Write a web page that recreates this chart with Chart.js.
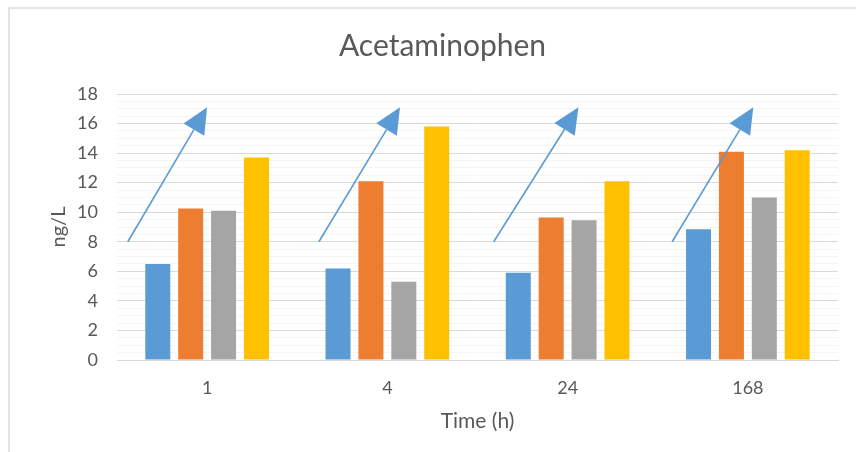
<!DOCTYPE html>
<html>
<head>
<meta charset="utf-8">
<script src="https://cdn.jsdelivr.net/npm/chart.js@4.4.1/dist/chart.umd.min.js"></script>
<style>
  html, body { margin: 0; padding: 0; background: #fff; }
  #wrap { position: relative; width: 856px; height: 452px; }
  #frame { position: absolute; left: 8px; top: 7px; right: 0; bottom: 0;
           border-left: 2px solid #e3e3e3; border-top: 2px solid #e3e3e3; }
  canvas { position: absolute; left: 0; top: 0; }
</style>
</head>
<body>
<div id="wrap">
  <div id="frame"></div>
  <canvas id="chart" width="856" height="452"></canvas>
</div>
<script>
const times = ["1", "4", "24", "168"];

const blueValues   = [6.5, 6.2, 5.9, 8.85];
const orangeValues = [10.25, 12.1, 9.65, 14.1];
const grayValues   = [10.1, 5.3, 9.45, 11.0];
const yellowValues = [13.7, 15.8, 12.1, 14.2];

const yTicks = [0, 2, 4, 6, 8, 10, 12, 14, 16, 18];

// arrows drawn over each time group (offsets in category units, values in ng/L)
const arrowFrom = [-0.44, -0.38, -0.41, -0.42];
const arrowTo   = [0.0, 0.07, 0.06, 0.03];
const arrowLow  = [8, 8, 8, 8];
const arrowHigh = [17.1, 17.1, 17.1, 17.1];

const textColor = "#595959";
const font = "Lato, 'Open Sans', sans-serif";

const arrowPlugin = {
    id: "arrows",
    afterDatasetsDraw(chart) {
        const ctx = chart.ctx;
        const x = chart.scales.x;
        const y = chart.scales.y;
        ctx.save();
        ctx.strokeStyle = "#5B9BD5";
        ctx.fillStyle = "#5B9BD5";
        ctx.lineWidth = 1.6;
        times.forEach((t, i) => {
            const x0 = x.getPixelForValue(i + arrowFrom[i]);
            const y0 = y.getPixelForValue(arrowLow[i]);
            const x1 = x.getPixelForValue(i + arrowTo[i]);
            const y1 = y.getPixelForValue(arrowHigh[i]);
            const a = Math.atan2(y1 - y0, x1 - x0);
            const len = 26, half = 12;
            const bx = x1 - Math.cos(a) * len;
            const by = y1 - Math.sin(a) * len;
            ctx.beginPath();
            ctx.moveTo(x0, y0);
            ctx.lineTo(bx, by);
            ctx.stroke();
            ctx.beginPath();
            ctx.moveTo(x1, y1);
            ctx.lineTo(bx + Math.sin(a) * half, by - Math.cos(a) * half);
            ctx.lineTo(bx - Math.sin(a) * half, by + Math.cos(a) * half);
            ctx.closePath();
            ctx.fill();
        });
        ctx.restore();
    }
};

new Chart(document.getElementById("chart"), {

    type: "bar",

    data: {
        labels: times,
        datasets: [
            { label: "Series 1", data: blueValues,   backgroundColor: "#5B9BD5" },
            { label: "Series 2", data: orangeValues, backgroundColor: "#ED7D31" },
            { label: "Series 3", data: grayValues,   backgroundColor: "#A5A5A5" },
            { label: "Series 4", data: yellowValues, backgroundColor: "#FFC000" }
        ]
    },

    options: {
        responsive: false,
        animation: false,
        categoryPercentage: 0.73,
        barPercentage: 0.76,
        layout: {
            padding: { left: 47, right: 18, top: 0, bottom: 18 }
        },
        plugins: {
            legend: { display: false },
            tooltip: { enabled: false },
            title: {
                display: true,
                text: "Acetaminophen",
                color: textColor,
                font: { family: font, size: 30, weight: "normal" },
                padding: { top: 28, bottom: 30 }
            }
        },
        scales: {
            x: {
                grid: { display: false, drawTicks: false },
                border: { color: "#d9d9d9", width: 1 },
                ticks: { color: textColor, font: { family: font, size: 18 }, padding: 17 },
                title: {
                    display: true,
                    text: "Time (h)",
                    color: textColor,
                    font: { family: font, size: 21 },
                    padding: { top: 6, bottom: 0 }
                },
                afterFit(scale) { scale.height = 74; }
            },
            y: {
                min: 0,
                max: 18,
                afterBuildTicks(scale) {
                    scale.ticks = [];
                    for (let v = 0; v <= 18; v += 0.5) scale.ticks.push({ value: v });
                },
                ticks: {
                    color: textColor,
                    font: { family: font, size: 18 },
                    padding: 19,
                    autoSkip: false,
                    callback: v => yTicks.includes(v) ? String(v) : ""
                },
                grid: {
                    drawTicks: false,
                    color: ctx => yTicks.includes(ctx.tick.value) ? "#d9d9d9" : "#f5f5f5",
                    lineWidth: 1
                },
                border: { display: false },
                title: {
                    display: true,
                    text: "ng/L",
                    color: textColor,
                    font: { family: font, size: 20 },
                    padding: { top: 0, bottom: 0 }
                },
                afterFit(scale) { scale.width = 70; }
            }
        }
    },

    plugins: [arrowPlugin]

});
</script>
</body>
</html>
